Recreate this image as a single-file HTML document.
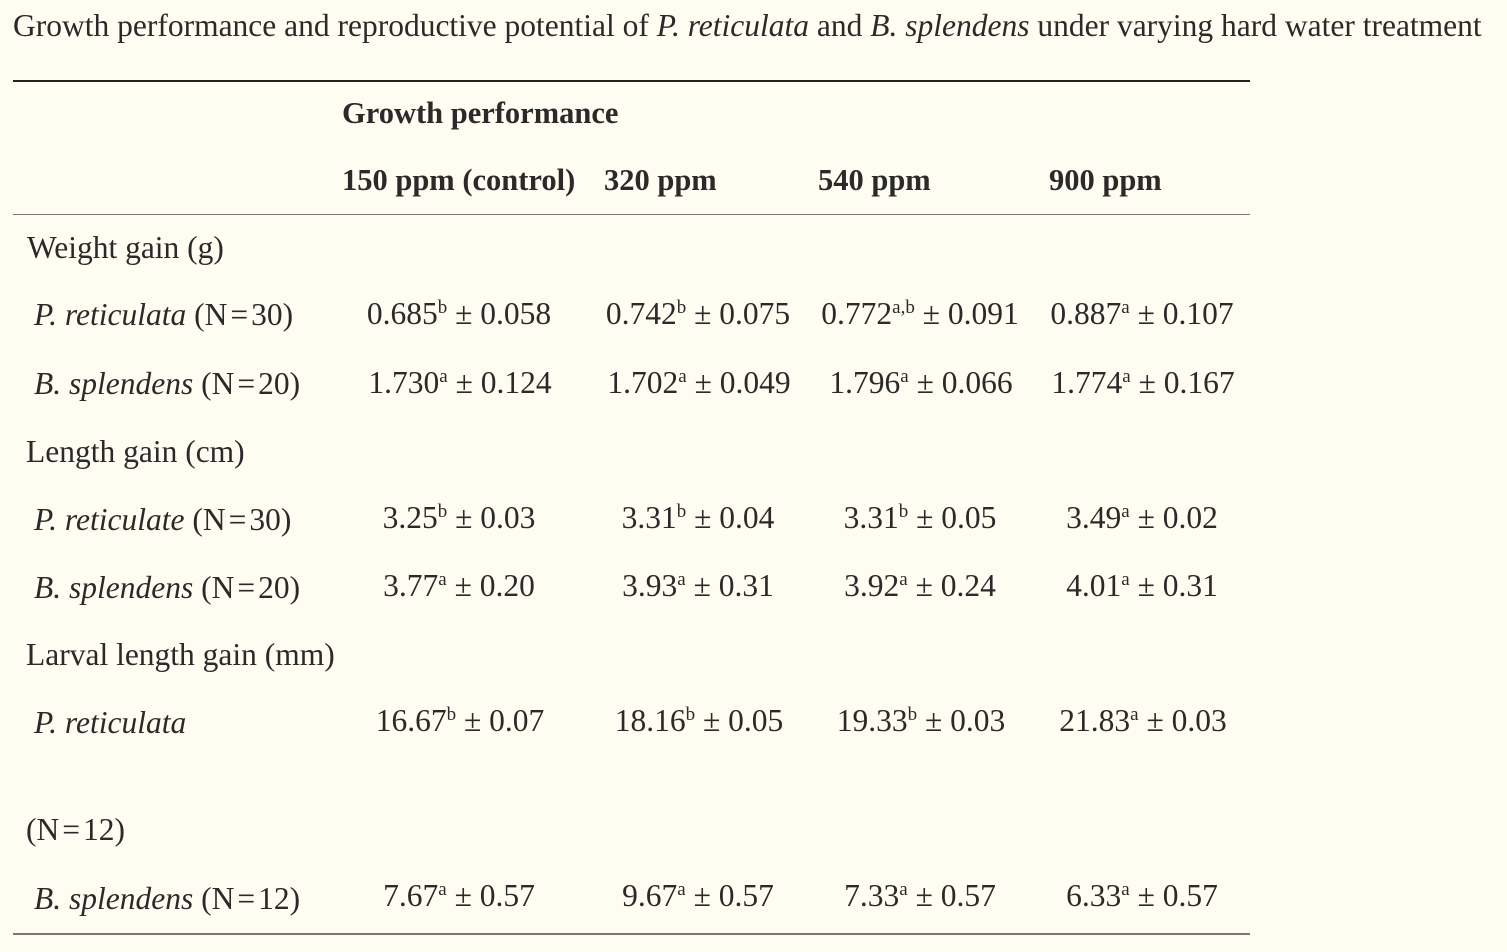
<!DOCTYPE html>
<html><head><meta charset="utf-8"><style>
body{margin:0;width:1507px;height:952px;background:#fffdf2;font-family:"Liberation Serif",serif;color:#2a2a2a;position:relative;overflow:hidden}
.t{position:absolute;white-space:nowrap;font-size:31.5px;line-height:34px}
.c{transform:translateX(-50%)}
.b{font-weight:bold;font-size:30.5px}
.r{position:absolute;left:13px;width:1237px;height:0}
sup{font-size:19px;line-height:0;vertical-align:11px}
.eq{padding:0 3px}
</style></head><body>
<div class="t" style="left:13px;top:9px;font-size:31.5px">Growth performance and reproductive potential of <i>P. reticulata</i> and <i>B. splendens</i> under varying hard water treatment</div>
<div class="r" style="top:80px;border-top:2px solid #222"></div>
<div class="r" style="top:214px;border-top:1px solid #777"></div>
<div class="r" style="top:933px;border-top:2px solid #777"></div>

<div class="t b" style="left:342px;top:96px">Growth performance</div>
<div class="t b" style="left:342px;top:163px">150 ppm (control)</div>
<div class="t b" style="left:604px;top:163px">320 ppm</div>
<div class="t b" style="left:818px;top:163px">540 ppm</div>
<div class="t b" style="left:1049px;top:163px">900 ppm</div>

<div class="t" style="left:27px;top:231px">Weight gain (g)</div>
<div class="t" style="left:34px;top:298px"><i>P. reticulata</i> (N<span class="eq">=</span>30)</div>
<div class="t c" style="left:459px;top:297px">0.685<sup>b</sup> ± 0.058</div>
<div class="t c" style="left:698px;top:297px">0.742<sup>b</sup> ± 0.075</div>
<div class="t c" style="left:920px;top:297px">0.772<sup>a,b</sup> ± 0.091</div>
<div class="t c" style="left:1142px;top:297px">0.887<sup>a</sup> ± 0.107</div>

<div class="t" style="left:34px;top:367px"><i>B. splendens</i> (N<span class="eq">=</span>20)</div>
<div class="t c" style="left:460px;top:366px">1.730<sup>a</sup> ± 0.124</div>
<div class="t c" style="left:699px;top:366px">1.702<sup>a</sup> ± 0.049</div>
<div class="t c" style="left:921px;top:366px">1.796<sup>a</sup> ± 0.066</div>
<div class="t c" style="left:1143px;top:366px">1.774<sup>a</sup> ± 0.167</div>

<div class="t" style="left:26px;top:435px">Length gain (cm)</div>
<div class="t" style="left:34px;top:503px"><i>P. reticulate</i> (N<span class="eq">=</span>30)</div>
<div class="t c" style="left:459px;top:501px">3.25<sup>b</sup> ± 0.03</div>
<div class="t c" style="left:698px;top:501px">3.31<sup>b</sup> ± 0.04</div>
<div class="t c" style="left:920px;top:501px">3.31<sup>b</sup> ± 0.05</div>
<div class="t c" style="left:1142px;top:501px">3.49<sup>a</sup> ± 0.02</div>

<div class="t" style="left:34px;top:571px"><i>B. splendens</i> (N<span class="eq">=</span>20)</div>
<div class="t c" style="left:459px;top:569px">3.77<sup>a</sup> ± 0.20</div>
<div class="t c" style="left:698px;top:569px">3.93<sup>a</sup> ± 0.31</div>
<div class="t c" style="left:920px;top:569px">3.92<sup>a</sup> ± 0.24</div>
<div class="t c" style="left:1142px;top:569px">4.01<sup>a</sup> ± 0.31</div>

<div class="t" style="left:26px;top:638px">Larval length gain (mm)</div>
<div class="t" style="left:34px;top:706px"><i>P. reticulata</i></div>
<div class="t c" style="left:460px;top:704px">16.67<sup>b</sup> ± 0.07</div>
<div class="t c" style="left:699px;top:704px">18.16<sup>b</sup> ± 0.05</div>
<div class="t c" style="left:921px;top:704px">19.33<sup>b</sup> ± 0.03</div>
<div class="t c" style="left:1143px;top:704px">21.83<sup>a</sup> ± 0.03</div>

<div class="t" style="left:26px;top:813px">(N<span class="eq">=</span>12)</div>
<div class="t" style="left:34px;top:882px"><i>B. splendens</i> (N<span class="eq">=</span>12)</div>
<div class="t c" style="left:459px;top:879px">7.67<sup>a</sup> ± 0.57</div>
<div class="t c" style="left:698px;top:879px">9.67<sup>a</sup> ± 0.57</div>
<div class="t c" style="left:920px;top:879px">7.33<sup>a</sup> ± 0.57</div>
<div class="t c" style="left:1142px;top:879px">6.33<sup>a</sup> ± 0.57</div>
</body></html>
